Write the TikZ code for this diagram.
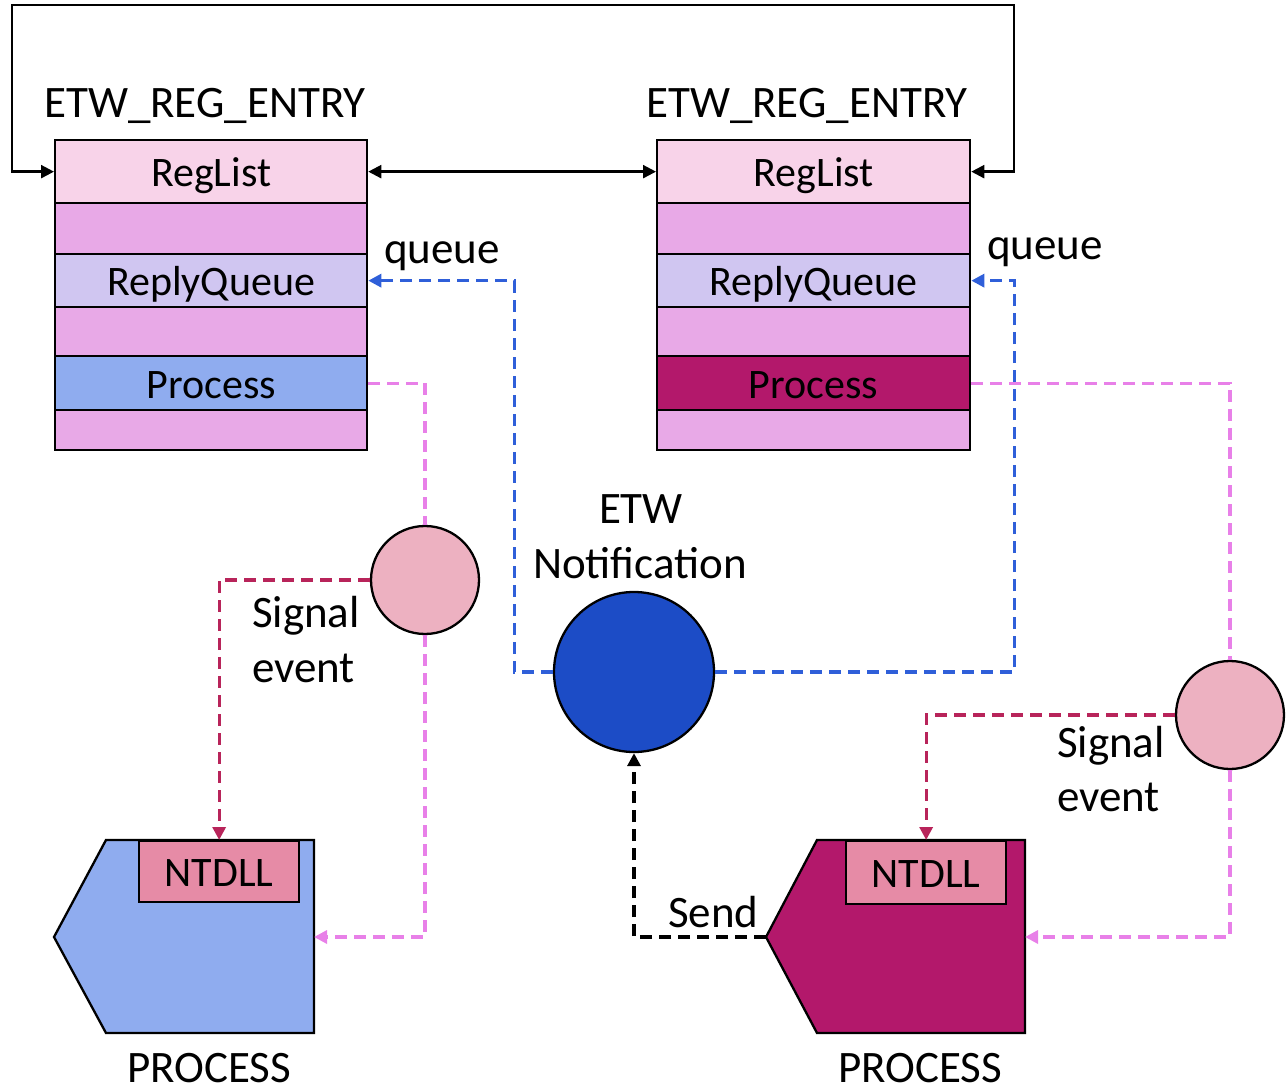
\documentclass[tikz,border=0pt]{standalone}
\usepackage{fontspec}
\setmainfont{Carlito}
\usetikzlibrary{arrows.meta}

\definecolor{reglistfill}{HTML}{F8D3E9}
\definecolor{rowfill}{HTML}{E8A9E7}
\definecolor{replyfill}{HTML}{D0C6F1}
\definecolor{proclight}{HTML}{8FACEF}
\definecolor{procdark}{HTML}{B3186B}
\definecolor{ntdllfill}{HTML}{E68BA6}
\definecolor{eventfill}{HTML}{EDB1C1}
\definecolor{etwfill}{HTML}{1C4CC6}
\definecolor{queueblue}{HTML}{2F5FD9}
\definecolor{procviolet}{HTML}{E880E8}
\definecolor{signalred}{HTML}{B8245A}

\newcommand\figtxt{\fontsize{45}{54}\selectfont}
\newcommand\boxtxt{\fontsize{42}{50}\selectfont}

\tikzset{
  outline/.style={draw=black, line width=2.3pt},
  field/.style={outline, anchor=north west, inner sep=0pt,
    text height=32pt, text depth=2pt, font=\boxtxt},
  event/.style={outline, circle, fill=eventfill, minimum size=108pt, inner sep=0pt},
  tip/.style={-{Triangle[length=13pt,width=13pt]}},
  dashline/.style={line width=3.2pt, dash pattern=on 12pt off 7pt},
  queueline/.style={dashline, draw=queueblue},
  procline/.style={dashline, draw=procviolet},
  signalline/.style={dashline, draw=signalred},
  sendline/.style={dashline, draw=black},
  label/.style={anchor=base, font=\figtxt, inner sep=0pt},
}

\begin{document}
\begin{tikzpicture}[x=1pt, y=-1pt]
\useasboundingbox (0,0) rectangle (1286,1091);

% ---- registration entries ----
\node[label] (ttl) at (205,118) {ETW\_REG\_ENTRY};
\node[label] (ttr) at (807,118) {ETW\_REG\_ENTRY};

\foreach \side/\x/\w/\pc in {l/54/312/proclight, r/656/313/procdark} {
  \node[field, fill=reglistfill, minimum width=\w pt, minimum height=63pt] (\side1) at (\x,139) {RegList};
  \node[field, fill=rowfill,     minimum width=\w pt, minimum height=51pt] (\side2) at (\x,202) {};
  \node[field, fill=replyfill,   minimum width=\w pt, minimum height=53pt] (\side3) at (\x,253) {ReplyQueue};
  \node[field, fill=rowfill,     minimum width=\w pt, minimum height=49pt] (\side4) at (\x,306) {};
  \node[field, fill=\pc,         minimum width=\w pt, minimum height=54pt] (\side5) at (\x,355) {Process};
  \node[field, fill=rowfill,     minimum width=\w pt, minimum height=40pt] (\side6) at (\x,409) {};
}

% list links between the two entries
\draw[outline, {Triangle[length=13pt,width=13pt]}-{Triangle[length=13pt,width=13pt]}]
  (l1.west) -| ([xshift=-42pt]l1.west |- 0,5) -| ([xshift=43pt]r1.east) -- (r1.east);
\draw[outline, {Triangle[length=13pt,width=13pt]}-{Triangle[length=13pt,width=13pt]}]
  (l1.east) -- (r1.west);

% ---- processes ----
\coordinate (pl-tip) at (54,937);
\coordinate (pl-e) at (314,937);
\draw[outline, fill=proclight] (pl-tip) -- (106,840) -- (314,840) -- (314,1033) -- (106,1033) -- cycle;
\node[field, fill=ntdllfill, minimum width=160pt, minimum height=61pt] (ntl) at (138,840) {NTDLL};
\node[label] (pcl) at (209,1082) {PROCESS};

\coordinate (pr-tip) at (766,937);
\coordinate (pr-e) at (1025,937);
\draw[outline, fill=procdark] (pr-tip) -- (817,840) -- (1025,840) -- (1025,1033) -- (817,1033) -- cycle;
\node[field, fill=ntdllfill, minimum width=160pt, minimum height=63pt] (ntr) at (845,840) {NTDLL};
\node[label] (pcr) at (920,1082) {PROCESS};

% ---- notification and events ----
\node[outline, circle, fill=etwfill, minimum size=160pt, inner sep=0pt] (etw) at (634,672) {};
\node[label] (etwt1) at (641,523) {ETW};
\node[label] (etwt2) at (640,578) {Notification};

\node[event] (sl) at (425,580) {};
\node[event] (sr) at (1230,715) {};

\node[label, anchor=base west] (sgl1) at (252,627) {Signal};
\node[label, anchor=base west] (sgl2) at (252,682) {event};
\node[label, anchor=base west] (sgr1) at (1057,757) {Signal};
\node[label, anchor=base west] (sgr2) at (1057,811) {event};

\node[label] (ql) at (442,264) {queue};
\node[label] (qr) at (1045,260) {queue};
\node[label, anchor=base west] (snd) at (668,927) {Send};

% ---- connectors ----
\draw[queueline, tip] (etw.west) -| ([xshift=146pt]l3.east) -- (l3.east);
\draw[queueline, tip] (etw.east) -| ([xshift=43pt]r3.east) -- (r3.east);

\draw[procline] (l5.east) -| (sl.north);
\draw[procline, tip] (sl.south) |- (pl-e);
\draw[procline] (r5.east) -| (sr.north);
\draw[procline, tip] (sr.south) |- (pr-e);

\draw[signalline, tip] (sl.west) -| (ntl.north);
\draw[signalline, tip] (sr.west) -| (ntr.north);

\draw[sendline, tip] (pr-tip) -| (etw.south);
\end{tikzpicture}
\end{document}
